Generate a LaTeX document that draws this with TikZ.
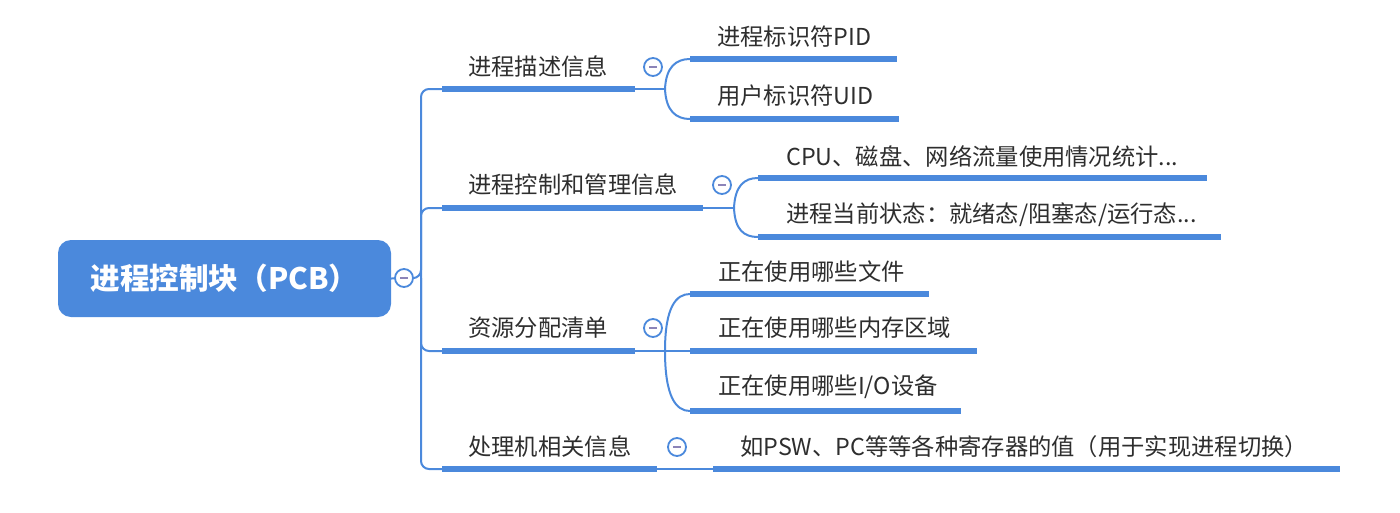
\documentclass[tikz,border=0pt]{standalone}
\usepackage{fontspec}
\setmainfont{Noto Sans CJK SC}
\usepackage{tikz}
\usetikzlibrary{positioning}
\definecolor{mapblue}{HTML}{4B89DC}
\definecolor{inkgray}{HTML}{2E2E2E}
\definecolor{minusgray}{HTML}{8C84B8}
\tikzset{
  rootbox/.style={fill=mapblue, rounded corners=13pt, minimum width=333pt, minimum height=77pt, text=white, font=\fontsize{29.6}{34}\selectfont\bfseries},
  topic/.style={anchor=west, inner sep=0pt, text=inkgray, font=\fontsize{23.3}{27}\selectfont},
  uline/.style={mapblue, line width=6pt},
  link/.style={mapblue, line width=2pt, rounded corners=8pt},
  branch/.style={mapblue, line width=2pt},
  fold/.style={circle, draw=mapblue, line width=1.8pt, fill=white, minimum size=18pt, inner sep=0pt,
    path picture={\draw[minusgray, line width=1.6pt] ([xshift=-4pt]path picture bounding box.center) -- ([xshift=4pt]path picture bounding box.center);}}
}

\begin{document}
\begin{tikzpicture}[x=1pt,y=-1pt]
\useasboundingbox (0,0) rectangle (1400,512);
\node[rootbox] (pcb) at (224.5,278.5) {进程控制块（PCB）};
\coordinate (spine) at (421,278);
% first level
\node[topic] (desc) at (468,67) {进程描述信息};
\node[topic] (ctrl) at (468,185) {进程控制和管理信息};
\node[topic] (res) at (468,328) {资源分配清单};
\node[topic] (cpu) at (468,447) {处理机相关信息};
\coordinate (descL) at (442,89);  \coordinate (descR) at (635,89);  \coordinate (descB) at (665,89);
\coordinate (ctrlL) at (442,208); \coordinate (ctrlR) at (703,208); \coordinate (ctrlB) at (734,208);
\coordinate (resL) at (442,351);  \coordinate (resR) at (635,351);  \coordinate (resB) at (665,351);
\coordinate (cpuL) at (442,469);  \coordinate (cpuR) at (657,469);
% second level
\node[topic] (pid) at (717,37) {进程标识符PID};
\node[topic] (uid) at (717,96) {用户标识符UID};
\node[topic] (stat) at (786,157) {CPU、磁盘、网络流量使用情况统计...};
\node[topic] (state) at (786,215) {进程当前状态：就绪态/阻塞态/运行态...};
\node[topic] (file) at (718,272) {正在使用哪些文件};
\node[topic] (mem) at (718,328) {正在使用哪些内存区域};
\node[topic] (io) at (718,387) {正在使用哪些I/O设备};
\node[topic] (reg) at (740,447) {如PSW、PC等等各种寄存器的值（用于实现进程切换）};
\coordinate (pidL) at (690,59);    \coordinate (pidR) at (897,59);
\coordinate (uidL) at (690,119);   \coordinate (uidR) at (899,119);
\coordinate (statL) at (758,178);  \coordinate (statR) at (1207,178);
\coordinate (stateL) at (758,237); \coordinate (stateR) at (1221,237);
\coordinate (fileL) at (690,294);  \coordinate (fileR) at (929,294);
\coordinate (memL) at (690,351);   \coordinate (memR) at (977,351);
\coordinate (ioL) at (690,411);    \coordinate (ioR) at (961,411);
\coordinate (regL) at (713,469);   \coordinate (regR) at (1340,469);
% spine
\draw[link] (pcb.east) -- (spine) |- (descL);
\draw[link] (spine) |- (ctrlL);
\draw[link] (spine) |- (resL);
\draw[link] (spine) |- (cpuL);
% branches
\draw[branch] (descR) -- (descB);
\draw[branch] (descB) .. controls +(1,-22) and +(-14,0) .. (pidL);
\draw[branch] (descB) .. controls +(1,22) and +(-14,0) .. (uidL);
\draw[branch] (ctrlR) -- (ctrlB);
\draw[branch] (ctrlB) .. controls +(1,-22) and +(-14,0) .. (statL);
\draw[branch] (ctrlB) .. controls +(1,22) and +(-14,0) .. (stateL);
\draw[branch] (resR) -- (memL);
\draw[branch] (resB) .. controls +(0,-44) and +(-14,0) .. (fileL);
\draw[branch] (resB) .. controls +(0,46) and +(-14,0) .. (ioL);
\draw[branch] (cpuR) -- (regL);
% underlines
\draw[uline] (descL) -- (descR);
\draw[uline] (ctrlL) -- (ctrlR);
\draw[uline] (resL) -- (resR);
\draw[uline] (cpuL) -- (cpuR);
\draw[uline] (pidL) -- (pidR);
\draw[uline] (uidL) -- (uidR);
\draw[uline] (statL) -- (statR);
\draw[uline] (stateL) -- (stateR);
\draw[uline] (fileL) -- (fileR);
\draw[uline] (memL) -- (memR);
\draw[uline] (ioL) -- (ioR);
\draw[uline] (regL) -- (regR);
% fold buttons
\node[fold] (pcbF) at (404,278) {};
\node[fold] (descF) at (653,67) {};
\node[fold] (ctrlF) at (722,185) {};
\node[fold] (resF) at (653,328) {};
\node[fold] (cpuF) at (677,447) {};
\end{tikzpicture}
\end{document}
